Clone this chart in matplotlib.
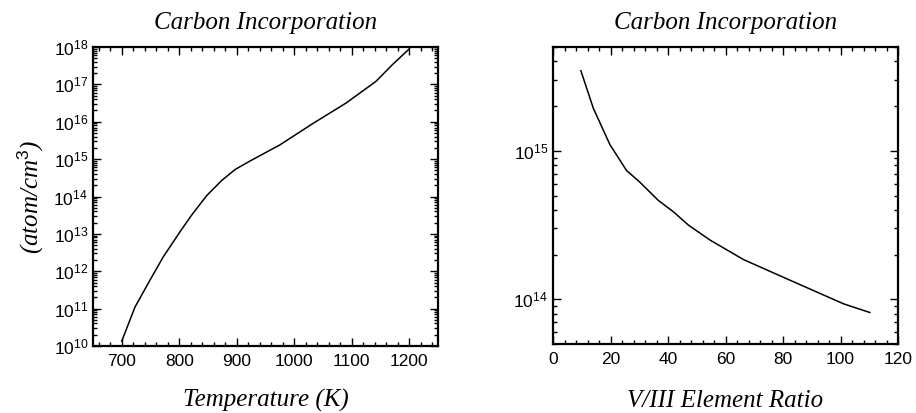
import matplotlib
matplotlib.use("Agg")
import matplotlib.pyplot as plt
from matplotlib.ticker import MultipleLocator, LogLocator, NullFormatter
import numpy as np

# Left panel: carbon incorporation vs temperature
temp_K = [700, 723, 749, 772, 801, 821, 848, 874, 897, 923, 975, 1032,
          1090, 1142, 1171, 1200]
carbon_T = [1.35e10, 1.1e11, 5.75e11, 2.4e12, 1.12e13, 3.1e13, 1.07e14,
            2.7e14, 5.25e14, 8.9e14, 2.4e15, 8.9e15, 3.16e16, 1.2e17,
            3.4e17, 8.9e17]

# Right panel: carbon incorporation vs V/III ratio
v3_ratio = [9.7, 14, 19.8, 25.6, 30.2, 36.6, 41.9, 47.1, 54.7, 66.3,
            77.9, 89.5, 101.2, 110.2]
carbon_R = [3.46e15, 1.94e15, 1.1e15, 7.36e14, 6.15e14, 4.64e14,
            3.88e14, 3.16e14, 2.5e14, 1.85e14, 1.47e14, 1.17e14,
            9.3e13, 8.15e13]

plt.rcParams['mathtext.fontset'] = 'custom'
plt.rcParams['mathtext.rm'] = 'Liberation Sans'
plt.rcParams['mathtext.it'] = 'Liberation Serif:italic'
plt.rcParams['font.family'] = ['Liberation Sans', 'DejaVu Sans']

fig = plt.figure(figsize=(9.16, 4.13), dpi=100)
ax1 = fig.add_axes([93/916, 1-346/413, 345/916, 299/413])
ax2 = fig.add_axes([553/916, 1-344/413, 345/916, 297/413])

serif = dict(family='Liberation Serif', style='italic', fontsize=18)

ax1.plot(temp_K, carbon_T, color='black', lw=1.1)
ax1.set_yscale('log')
ax1.set_xlim(650, 1250)
ax1.set_ylim(1e10, 1e18)
ax1.xaxis.set_major_locator(MultipleLocator(100))
ax1.xaxis.set_minor_locator(MultipleLocator(20))
ax1.yaxis.set_major_locator(LogLocator(base=10, numticks=20))
ax1.yaxis.set_minor_locator(LogLocator(base=10, subs=np.arange(2, 10), numticks=100))
ax1.yaxis.set_minor_formatter(NullFormatter())
ax1.set_title('Carbon Incorporation', pad=13, **serif)
ax1.set_xlabel('Temperature (K)', labelpad=14, **serif)
ax1.set_ylabel(r'(atom/cm$^3$)', labelpad=6, **serif)

ax2.plot(v3_ratio, carbon_R, color='black', lw=1.1)
ax2.set_yscale('log')
ax2.set_xlim(0, 120)
ax2.set_ylim(5e13, 5e15)
ax2.xaxis.set_major_locator(MultipleLocator(20))
ax2.xaxis.set_minor_locator(MultipleLocator(4))
ax2.yaxis.set_major_locator(LogLocator(base=10, numticks=20))
ax2.yaxis.set_minor_locator(LogLocator(base=10, subs=np.arange(2, 10), numticks=100))
ax2.yaxis.set_minor_formatter(NullFormatter())
ax2.set_title('Carbon Incorporation', pad=13, **serif)
ax2.set_xlabel('V/III Element Ratio', labelpad=16, **serif)

for ax in (ax1, ax2):
    for s in ax.spines.values():
        s.set_linewidth(1.6)
    ax.tick_params(which='both', direction='in', top=True, right=True,
                   labelsize=12.5, width=1.0)
    ax.tick_params(which='major', length=6)
    ax.tick_params(which='minor', length=3)
    ax.tick_params(axis='x', pad=6)

fig.savefig('out.png', dpi=100)
